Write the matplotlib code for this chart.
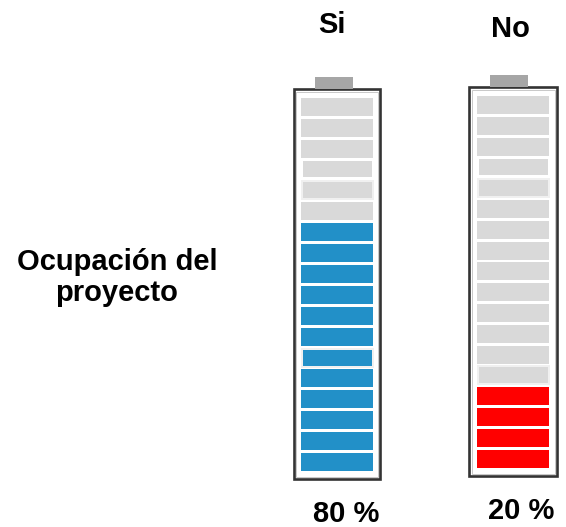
import matplotlib
matplotlib.use("Agg")
import matplotlib.pyplot as plt
from matplotlib.patches import Rectangle

# Data
categories = ["Si", "No"]
percent_labels = ["80 %", "20 %"]
total_segments = [18, 18]
filled_segments = [12, 4]
fill_colors = ["#2290c8", "#ff0000"]
row_label = "Ocupación del\nproyecto"

EMPTY = "#d9d9d9"
BORDER = "#333333"
CAP = "#a6a6a6"

W, H = 566, 527
fig = plt.figure(figsize=(W / 100, H / 100), dpi=100)
ax = fig.add_axes([0, 0, 1, 1])
ax.set_xlim(0, W)
ax.set_ylim(H, 0)
ax.axis("off")

# Battery geometry in pixel space (left, top, right, bottom)
bodies = [(293.5, 89, 380, 479), (469, 87, 557, 476)]
caps = [(315, 77, 353, 89), (490, 75, 528, 87)]
seg_x = [(301, 373), (477, 549)]
seg_top = [97.7, 96]
seg_pitch = [20.9, 20.8]
seg_h = 18
# rows drawn slightly inset, some with a soft halo
inset_rows = {3: False, 4: True}
halo_rows = [{12}, {13}]

header_pos = [(332, 33), (510, 37)]
pct_pos = [(346, 522), (521, 519)]

FONT = "Liberation Sans"
FS = 21

for i, cat in enumerate(categories):
    l, t, r, b = bodies[i]
    ax.add_patch(Rectangle((l, t), r - l, b - t, facecolor="white",
                           edgecolor=BORDER, linewidth=1.9, zorder=2))
    ax.add_patch(Rectangle((l + 2.5, t + 2.5), r - l - 5, b - t - 5,
                           facecolor="none", edgecolor="#c8c8c8",
                           linewidth=0.7, zorder=2))
    cl, ct, cr, cb = caps[i]
    ax.add_patch(Rectangle((cl, ct), cr - cl, cb - ct, facecolor=CAP,
                           edgecolor="none", zorder=3))

    n = total_segments[i]
    k = filled_segments[i]
    x0, x1 = seg_x[i]
    for j in range(n):
        # j counts from the top; the bottom k segments are filled
        filled = j >= n - k
        color = fill_colors[i] if filled else EMPTY
        y = seg_top[i] + j * seg_pitch[i]
        sx0, sx1, sy, sh = x0, x1, y, seg_h
        halo = False
        if j in inset_rows:
            sx0, sx1, sy, sh = x0 + 2, x1 - 1, y + 1, seg_h - 2
            halo = inset_rows[j]
        if j in halo_rows[i]:
            sx0, sx1, sy, sh = x0 + 2, x1 - 1, y + 1, seg_h - 2
            halo = True
        if halo:
            ax.add_patch(Rectangle((sx0 - 2, sy - 2), sx1 - sx0 + 4, sh + 4,
                                   facecolor="#f0f0f0", edgecolor="none",
                                   zorder=3))
        ax.add_patch(Rectangle((sx0, sy), sx1 - sx0, sh, facecolor=color,
                               edgecolor="none", zorder=4))

    hx, hy = header_pos[i]
    ax.text(hx, hy, cat, ha="center", va="baseline", fontsize=FS,
            fontweight="bold", family=FONT)
    px, py = pct_pos[i]
    ax.text(px, py, percent_labels[i], ha="center", va="baseline",
            fontsize=FS, fontweight="bold", family=FONT)

ax.text(117, 301, row_label, ha="center", va="baseline", fontsize=FS,
        fontweight="bold", family=FONT, linespacing=1.12,
        multialignment="center")

fig.savefig("out.png", dpi=100)
